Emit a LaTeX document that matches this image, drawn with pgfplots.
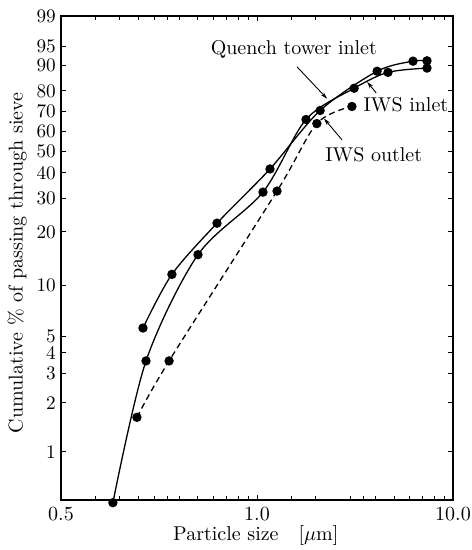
\documentclass[border=0pt]{standalone}
\usepackage{pgfplots}
\pgfplotsset{compat=1.18}
\usetikzlibrary{arrows.meta}
\begin{document}
\begin{tikzpicture}
\begin{axis}[
  scale only axis, width=196pt, height=242pt,
  xmode=log, xmin=0.1, xmax=10,
  xtick={0.1,1,10}, xticklabels={0.5,1.0,10.0},
  minor xtick={0.15,0.2,0.25,0.3,0.35,0.4,0.5,0.6,0.7,0.8,0.9,1.5,2,3,3.5,4,5,6,7,8,9},
  ymin=0.5, ymax=99,
  y coord trafo/.code={\pgfmathparse{ln(-ln(1-(#1)/100))}},
  y coord inv trafo/.code={\pgfmathparse{100*(1-exp(-exp(#1)))}},
  ytick={1,2,3,4,5,10,20,30,40,50,60,70,80,90,95,99},
  yticklabels={1,2,3,4,5,10,20,30,40,50,60,70,80,90,95,99},
  yticklabel style={inner sep=0pt, xshift=-2.4pt, font=\fontsize{9.6}{10}\selectfont},
  tick align=inside, major tick length=2.6pt, minor tick length=2.2pt,
  every tick/.style={black, line width=0.5pt},
  axis line style={line width=0.8pt},
  clip=false,
  xlabel={Particle size\quad[$\mu$m]},
  ylabel={Cumulative \% of passing through sieve},
  xlabel style={at={(axis description cs:0.497,-0.074)}, anchor=center},
  ylabel style={at={(axis description cs:-0.112,0.49)}, anchor=center},
]
\coordinate (sw) at (rel axis cs:0,0);
\coordinate (ne) at (rel axis cs:1,1);
% Quench tower inlet
\addplot[black, line width=0.65pt, smooth, mark=*, mark size=2pt] coordinates {
(0.262,5.65) (0.368,11.6) (0.625,22.3) (1.165,41.7) (2.10,70.6) (4.10,88.0) (6.25,91.3) (7.37,91.4)
};
% IWS inlet
\addplot[black, line width=0.65pt, smooth, mark=*, mark size=2pt] coordinates {
(0.184,0.5) (0.2715,3.6) (0.5,15.0) (1.073,32.3) (1.778,66.0) (3.13,81.2) (4.66,87.6) (7.37,89.1)
};
% IWS outlet
\addplot[black, line width=0.65pt, smooth, dash pattern=on 3pt off 2pt, mark=*, mark size=2pt, mark options={solid}] coordinates {
(0.244,1.65) (0.356,3.6) (1.265,32.7) (2.02,63.9) (3.05,72.6)
};
\node at (axis description cs:0.594,0.930) {Quench tower inlet};
\draw[line width=0.45pt, -{Stealth[length=3.5pt,width=2pt]}] (axis description cs:0.602,0.895) -- (axis description cs:0.679,0.829);
\node at (axis description cs:0.880,0.816) {IWS inlet};
\draw[line width=0.45pt, -{Stealth[length=3.5pt,width=2pt]}] (axis description cs:0.804,0.841) -- (axis description cs:0.781,0.864);
\node at (axis description cs:0.798,0.713) {IWS outlet};
\draw[line width=0.45pt, -{Stealth[length=3.5pt,width=2pt]}] (axis description cs:0.717,0.744) -- (axis description cs:0.671,0.788);
\end{axis}
\pgfresetboundingbox
\path[use as bounding box] ([shift={(-30.5pt,-25pt)}]sw) rectangle ([shift={(9pt,8pt)}]ne);
\end{tikzpicture}
\end{document}
